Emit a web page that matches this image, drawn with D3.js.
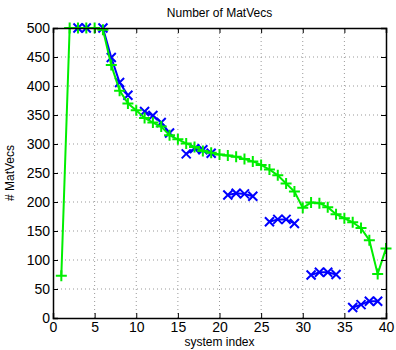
<!DOCTYPE html>
<html>
<head>
<meta charset="utf-8">
<script src="https://cdn.jsdelivr.net/npm/d3@7"></script>
<style>
  html, body { margin: 0; padding: 0; background: #fff; }
  svg { display: block; font-family: "Liberation Sans", Arial, sans-serif; }
</style>
</head>
<body>
<svg id="chart" width="396" height="350"></svg>
<script>
// System indices 1..40
const systemIndex = d3.range(1, 41);

// Green series: MatVecs per system (all systems)
const greenValues = [
  73, 500, 500, 500, 500, 497, 436, 392, 370, 358,
  345, 337, 330, 315, 308, 301, 295, 288, 285, 282,
  280, 278, 274, 270, 264, 256, 246, 232, 218, 190,
  199, 198, 191, 179, 172, 165, 155, 134, 76, 120
];

// Blue series: MatVecs for groups of systems (null = not run)
const blueValues = [
  null, null, 500, 500, null, 500, 449, 406, 384, null,
  356, 349, 337, 319, null, 283, 292, 290, 284, null,
  212, 215, 214, 210, null, 166, 170, 170, 163, null,
  74, 79, 79, 75, null, 18, 23, 29, 29, null
];

const xTicks = [0, 5, 10, 15, 20, 25, 30, 35, 40];
const yTicks = [0, 50, 100, 150, 200, 250, 300, 350, 400, 450, 500];

const svg = d3.select("#chart");
const m = { left: 53, right: 10, top: 28, bottom: 32 };
const W = 396, H = 350;
const iw = W - m.left - m.right;   // plot width
const ih = H - m.top - m.bottom;   // plot height

const x = d3.scaleLinear().domain([0, 40]).range([m.left, m.left + iw]);
const y = d3.scaleLinear().domain([0, 500]).range([m.top + ih, m.top]);

// dotted grid
const grid = svg.append("g");
grid.selectAll("line.vx").data(xTicks.slice(1, -1)).join("line")
  .attr("x1", d => x(d)).attr("x2", d => x(d))
  .attr("y1", y(0)).attr("y2", y(500))
  .attr("stroke", "#999").attr("stroke-width", 1).attr("stroke-dasharray", "1,3");
grid.selectAll("line.hy").data(yTicks.slice(1, -1)).join("line")
  .attr("y1", d => y(d)).attr("y2", d => y(d))
  .attr("x1", x(0)).attr("x2", x(40))
  .attr("stroke", "#999").attr("stroke-width", 1).attr("stroke-dasharray", "1,3");

// clip region for the data
svg.append("clipPath").attr("id", "plotclip").append("rect")
  .attr("x", x(0)).attr("y", y(500) - 6).attr("width", iw + 6).attr("height", ih + 6);

const data = systemIndex.map((s, i) => ({ s, g: greenValues[i], b: blueValues[i] }));

const plot = svg.append("g").attr("clip-path", "url(#plotclip)");

// blue line + x markers
const blueLine = d3.line()
  .defined(d => d.b !== null)
  .x(d => x(d.s)).y(d => y(d.b));
plot.append("path").datum(data)
  .attr("d", blueLine).attr("fill", "none")
  .attr("stroke", "#0000ff").attr("stroke-width", 2);
const bs = 4.5;
plot.append("g").selectAll("path").data(data.filter(d => d.b !== null)).join("path")
  .attr("d", d => {
    const cx = x(d.s), cy = y(d.b);
    return `M${cx - bs},${cy - bs}L${cx + bs},${cy + bs}M${cx - bs},${cy + bs}L${cx + bs},${cy - bs}`;
  })
  .attr("stroke", "#0000ff").attr("stroke-width", 2).attr("fill", "none");

// green line + plus markers
const greenLine = d3.line().x(d => x(d.s)).y(d => y(d.g));
plot.append("path").datum(data)
  .attr("d", greenLine).attr("fill", "none")
  .attr("stroke", "#00ee00").attr("stroke-width", 2);
const gs = 5.5;
plot.append("g").selectAll("path").data(data).join("path")
  .attr("d", d => {
    const cx = x(d.s), cy = y(d.g);
    return `M${cx - gs},${cy}L${cx + gs},${cy}M${cx},${cy - gs}L${cx},${cy + gs}`;
  })
  .attr("stroke", "#00ee00").attr("stroke-width", 2).attr("fill", "none");

// axes (ticks pointing inward, box on all sides)
const axisB = d3.axisBottom(x).tickValues(xTicks).tickSize(-5).tickPadding(4);
const axisL = d3.axisLeft(y).tickValues(yTicks).tickSize(-5).tickPadding(3);
const axisT = d3.axisTop(x).tickValues(xTicks).tickSize(-5).tickFormat("");
const axisR = d3.axisRight(y).tickValues(yTicks).tickSize(-5).tickFormat("");

function styleAxis(g) {
  g.select(".domain").attr("stroke", "#000").attr("stroke-width", 1.5);
  g.selectAll(".tick line").attr("stroke", "#000");
  g.selectAll(".tick text").attr("fill", "#000").attr("font-size", 14)
    .attr("font-family", "Liberation Sans, Arial, sans-serif");
}

svg.append("g").attr("transform", `translate(0,${y(0)})`).call(axisB).call(styleAxis);
svg.append("g").attr("transform", `translate(${x(0)},0)`).call(axisL).call(styleAxis);
svg.append("g").attr("transform", `translate(0,${y(500)})`).call(axisT).call(styleAxis);
svg.append("g").attr("transform", `translate(${x(40)},0)`).call(axisR).call(styleAxis);

// title and axis labels
svg.append("text").attr("x", x(20)).attr("y", 17)
  .attr("text-anchor", "middle").attr("font-size", 12).text("Number of MatVecs");
svg.append("text").attr("x", x(20)).attr("y", 346)
  .attr("text-anchor", "middle").attr("font-size", 12).text("system index");
svg.append("text")
  .attr("transform", `translate(14,${(y(0) + y(500)) / 2}) rotate(-90)`)
  .attr("text-anchor", "middle").attr("font-size", 12).text("# MatVecs");
</script>
</body>
</html>
